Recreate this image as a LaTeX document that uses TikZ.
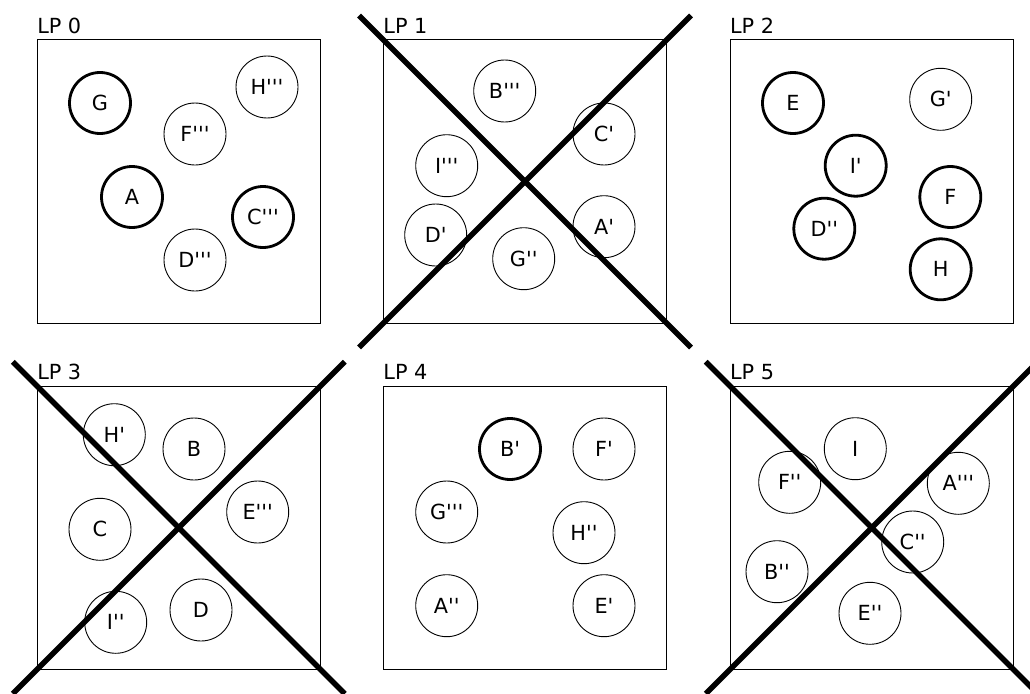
\documentclass[tikz,border=0pt]{standalone}
\usepackage{fontspec}
\setmainfont{DejaVu Sans}[Ligatures=TeXOff]
\usetikzlibrary{positioning, calc}

\begin{document}
\begin{tikzpicture}[
  x=1pt, y=-1pt,
  every node/.style={font=\fontsize{20.8}{24}\selectfont},
  lpbox/.style   = {draw, line width=0.9pt, minimum size=283.5pt, inner sep=0pt, outer sep=0pt},
  lplabel/.style = {anchor=base west, inner sep=0pt},
  vm/.style      = {draw, circle, line width=0.9pt, minimum size=62pt, inner sep=0pt},
  hot/.style     = {vm, line width=2.8pt, minimum size=61pt},
  dead/.style    = {line width=5.5pt},
]
  \useasboundingbox (0,0) rectangle (1030,693);
  \clip (0,0) rectangle (1030,693);
  % partitions
  \node[lpbox] (lp0) at (178.8,181.5) {};
  \node[lpbox] (lp1) at (525.0,181.5) {};
  \node[lpbox] (lp2) at (871.7,181.5) {};
  \node[lpbox] (lp3) at (178.8,527.7) {};
  \node[lpbox] (lp4) at (525.0,527.7) {};
  \node[lpbox] (lp5) at (871.7,527.7) {};
  \foreach \b/\t in {lp0/LP 0, lp1/LP 1, lp2/LP 2, lp3/LP 3, lp4/LP 4, lp5/LP 5}
     \node[lplabel] (\b t) at ($(\b.north west)+(0,-6.5)$) {\t};
  % LP 0
  \node[hot] (g0) at (100,103)   {G};
  \node[vm]  (h0) at (267,87)    {H'''};
  \node[vm]  (f0) at (195,134)   {F'''};
  \node[hot] (a0) at (132,197)   {A};
  \node[hot] (c0) at (263,217)   {C'''};
  \node[vm]  (d0) at (195,260)   {D'''};
  % LP 1
  \node[vm]  (b1) at (504.7,91)  {B'''};
  \node[vm]  (c1) at (604,134)   {C'};
  \node[vm]  (i1) at (446.7,165.7) {I'''};
  \node[vm]  (d1) at (435.7,235) {D'};
  \node[vm]  (g1) at (523.7,258.7) {G''};
  \node[vm]  (a1) at (604,226.7) {A'};
  % LP 2
  \node[hot] (e2) at (793,103)   {E};
  \node[vm]  (g2) at (940.7,99.3) {G'};
  \node[hot] (i2) at (855.7,165.7) {I'};
  \node[hot] (f2) at (950.3,197) {F};
  \node[hot] (d2) at (824.3,228.7) {D''};
  \node[hot] (h2) at (940.7,269.3) {H};
  % LP 3
  \node[vm]  (h3) at (114.3,434.7) {H'};
  \node[vm]  (b3) at (194,449)   {B};
  \node[vm]  (c3) at (100,529.3) {C};
  \node[vm]  (e3) at (257.7,512) {E'''};
  \node[vm]  (i3) at (115.7,622.3) {I''};
  \node[vm]  (d3) at (201,610)   {D};
  % LP 4
  \node[hot] (b4) at (510,449)   {B'};
  \node[vm]  (f4) at (604,449)   {F'};
  \node[vm]  (g4) at (446.7,512) {G'''};
  \node[vm]  (h4) at (584,532.7) {H''};
  \node[vm]  (a4) at (446.7,605.7) {A''};
  \node[vm]  (e4) at (604,605.7) {E'};
  % LP 5
  \node[vm]  (i5) at (855.3,448.7) {I};
  \node[vm]  (f5) at (789.7,482.3) {F''};
  \node[vm]  (a5) at (958.3,483.3) {A'''};
  \node[vm]  (c5) at (912.7,542) {C''};
  \node[vm]  (b5) at (777,571.7) {B''};
  \node[vm]  (e5) at (870,613.3) {E''};
  % crossed out
  \foreach \b in {lp1, lp3, lp5} {
     \draw[dead] ($(\b.center)+(-166,-166)$) -- ($(\b.center)+(166,166)$);
     \draw[dead] ($(\b.center)+(-166,166)$) -- ($(\b.center)+(166,-166)$);
  }
\end{tikzpicture}
\end{document}
